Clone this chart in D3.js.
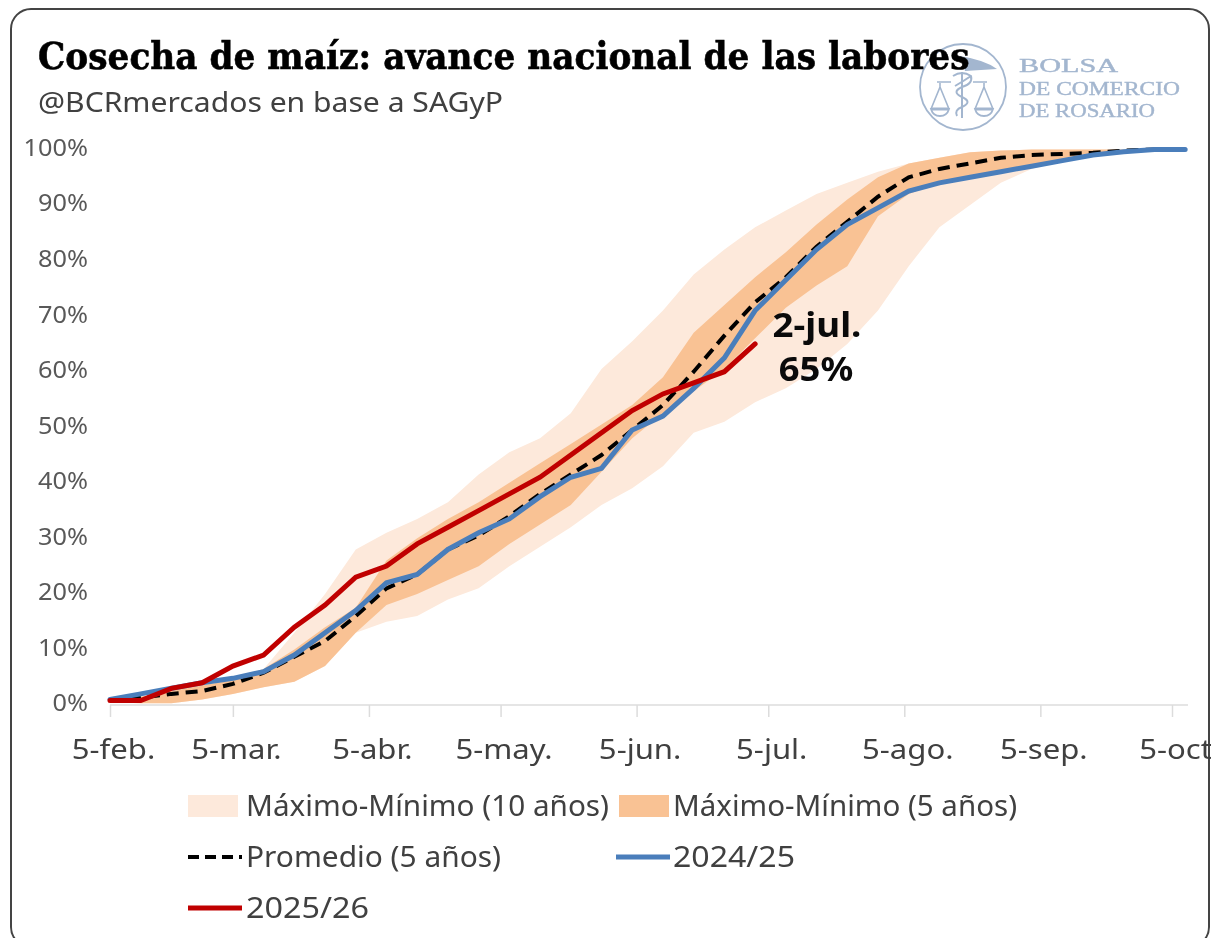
<!DOCTYPE html>
<html>
<head>
<meta charset="utf-8">
<script src="https://cdn.jsdelivr.net/npm/d3@7"></script>
<style>
  html, body { margin: 0; background: #fff; }
  svg { display: block; filter: blur(0.7px); }
</style>
</head>
<body>
<svg id="chart" width="1211" height="938"></svg>
<script>
// --- Data (weekly, starting 5 Feb) ---
const startDate = new Date(2025, 1, 5);
const max10 = [1, 1.5, 2.5, 3.5, 4.5, 6.5, 13, 20, 28, 31, 33.5, 36.5, 41.5, 45.5, 48, 52.5, 60.5, 65.5, 71, 77.5, 82, 86, 89, 92, 94, 96, 97.5, 98.5, 99.5, 99.8, 100, 100, 100, 100, 100, 100];
const min10 = [0.5, 0.3, 0.3, 1, 2, 3.2, 4.2, 7, 13, 15, 16, 19, 21, 25, 28.5, 32, 36, 39, 43, 49, 51, 54.5, 57, 60.5, 65, 71, 79, 86, 90, 94, 96.5, 98, 99, 99.6, 100, 100];
const max5 = [1, 1.5, 2.5, 3.5, 4.5, 6.5, 10, 14, 17.5, 26, 30, 33.5, 36.5, 40, 43.5, 47, 50.5, 54, 59, 67, 72, 77, 81.5, 86.5, 91, 95, 97.5, 98.5, 99.5, 99.8, 100, 100, 100, 100, 100, 100];
const min5 = [0.5, 0.3, 0.3, 1, 2, 3.2, 4.2, 7, 13, 18, 20, 22.5, 25, 29, 32.5, 36, 42, 48, 52.5, 56.5, 60.5, 66, 71.5, 75.5, 79, 88, 92, 94, 95, 96, 97, 98, 99, 99.6, 100, 100];
const promedio = [1, 1.3, 2, 2.5, 3.8, 5.8, 8.7, 11.5, 16, 21, 23.5, 28, 30.5, 34, 38, 41.5, 45, 49.5, 54, 60, 66.5, 72.5, 77, 82.5, 87, 91.5, 95, 96.5, 97.5, 98.5, 99, 99.2, 99.4, 99.8, 100, 100];
const serie2425 = [1, 2, 3, 4, 4.8, 6, 9, 13, 17, 22, 23.5, 28, 31, 33.5, 37.5, 41, 42.6, 49.5, 52, 57, 62.5, 71, 76.5, 82, 86.5, 89.5, 92.5, 94, 95, 96, 97, 98, 99, 99.6, 100, 100];
const serie2526 = [0.8, 0.8, 3, 4, 7, 9, 14, 18, 23, 25, 29, 32, 35, 38, 41, 45, 49, 53, 56, 58, 60, 65];
const yTicks = [0, 10, 20, 30, 40, 50, 60, 70, 80, 90, 100];
const xTickMonths = [1, 2, 3, 4, 5, 6, 7, 8, 9];
const xTickLabels = ["5-feb.", "5-mar.", "5-abr.", "5-may.", "5-jun.", "5-jul.", "5-ago.", "5-sep.", "5-oct"];

const colors = { light: "#fde9db", dark: "#f9c294", avg: "#000000", blue: "#4a7ebb", red: "#c00000" };
const sans = "'Noto Sans', sans-serif";

const svg = d3.select("#chart");
const weekDate = i => d3.timeDay.offset(startDate, i * 7);

const x = d3.scaleTime()
  .domain([startDate, new Date(2025, 9, 5)])
  .range([110, 1172]);
const y = d3.scaleLinear().domain([0, 100]).range([705, 149.5]);

// the original font is wider than Noto Sans: stretch each text by a factor
function stretch(sel, factor) {
  sel.each(function () {
    const len = this.getComputedTextLength();
    d3.select(this).attr("textLength", len * factor).attr("lengthAdjust", "spacingAndGlyphs");
  });
}

// --- Frame ---
svg.append("rect")
  .attr("x", 11).attr("y", 9).attr("width", 1198).attr("height", 938).attr("rx", 20)
  .attr("fill", "#fff").attr("stroke", "#444").attr("stroke-width", 2);

// --- Logo (behind the title) ---
const logoColor = "#a3b6cf";
const logo = svg.append("g").attr("class", "logo");
logo.append("circle").attr("cx", 963).attr("cy", 87).attr("r", 43)
  .attr("fill", "none").attr("stroke", logoColor).attr("stroke-width", 1.8);
// wing
logo.append("path").attr("d", "M960 56 Q985 60 997 69 L965 71 Z").attr("fill", logoColor);
// scales
logo.append("path").attr("d", "M940 83 V87 L931 109 M940 87 L949 109 M984 83 V87 L975 109 M984 87 L993 109 M937 82 H951 M973 82 H987")
  .attr("fill", "none").attr("stroke", logoColor).attr("stroke-width", 1.6);
logo.append("path").attr("d", "M931 109 H949 Q947 116 940 116 Q933 116 931 109 Z M975 109 H993 Q991 116 984 116 Q977 116 975 109 Z")
  .attr("fill", "none").attr("stroke", logoColor).attr("stroke-width", 1.8);
logo.append("path").attr("d", "M931 109 H949 M975 109 H993").attr("stroke", logoColor).attr("stroke-width", 3);
// caduceus
logo.append("path").attr("d", "M962 72 V118 M953 76 Q962 70 971 76 Q973 84 962 87 Q951 92 962 97 Q973 102 962 107 Q954 110 957 116 M971 76 Q962 82 955 86")
  .attr("fill", "none").attr("stroke", logoColor).attr("stroke-width", 2);
[["BOLSA", 72, 99], ["DE COMERCIO", 95, 161], ["DE ROSARIO", 117, 136]].forEach(d => {
  logo.append("text").attr("x", 1019).attr("y", d[1]).text(d[0])
    .attr("font-family", "'Liberation Serif', serif").attr("font-size", 19.5)
    .attr("textLength", d[2]).attr("lengthAdjust", "spacingAndGlyphs")
    .attr("fill", logoColor).attr("stroke", logoColor).attr("stroke-width", 0.4);
});

// --- Bands ---
const bandArea = (upper, lower) => d3.area()
  .x((d, i) => x(weekDate(i)))
  .y0((d, i) => y(lower[i]))
  .y1((d, i) => y(upper[i]));

svg.append("path").datum(max10).attr("d", bandArea(max10, min10)).attr("fill", colors.light);
svg.append("path").datum(max5).attr("d", bandArea(max5, min5)).attr("fill", colors.dark);

// --- Axes ---
const xAxis = d3.axisBottom(x)
  .tickValues(xTickMonths.map(m => new Date(2025, m, 5)))
  .tickSize(12)
  .tickFormat((d, i) => xTickLabels[i]);

const xG = svg.append("g").attr("transform", "translate(0,705)").call(xAxis);
xG.select(".domain").remove();
xG.append("line").attr("x1", 110).attr("x2", 1188).attr("stroke", "#dcdcdc").attr("stroke-width", 1.5);
xG.selectAll(".tick line").attr("stroke", "#dcdcdc").attr("stroke-width", 1.5);
xG.selectAll(".tick text")
  .attr("x", 3).attr("y", 54).attr("dy", 0)
  .attr("font-family", sans).attr("font-size", 28).attr("fill", "#404040")
  .call(stretch, 1.11);

const yAxis = d3.axisLeft(y).tickValues(yTicks).tickSize(0).tickFormat(d => d + "%");
const yG = svg.append("g").attr("transform", "translate(88,-1.5)").call(yAxis);
yG.select(".domain").remove();
yG.selectAll(".tick text")
  .attr("x", 0).attr("dy", "0.32em")
  .attr("font-family", sans).attr("font-size", 23).attr("fill", "#595959")
  .call(stretch, 1.1);

// --- Lines ---
const lineGen = d3.line().x((d, i) => x(weekDate(i))).y(d => y(d));

svg.append("path").datum(promedio).attr("d", lineGen).attr("fill", "none")
  .attr("stroke", colors.avg).attr("stroke-width", 4).attr("stroke-dasharray", "12 7");
svg.append("path").datum(serie2425).attr("d", lineGen).attr("fill", "none")
  .attr("stroke", colors.blue).attr("stroke-width", 5).attr("stroke-linecap", "round");
svg.append("path").datum(serie2526).attr("d", lineGen).attr("fill", "none")
  .attr("stroke", colors.red).attr("stroke-width", 5).attr("stroke-linecap", "round");

// --- Annotation ---
svg.append("text").attr("x", 817).attr("y", 337).attr("text-anchor", "middle").text("2-jul.")
  .attr("font-family", sans).attr("font-weight", 700).attr("font-size", 34).attr("fill", "#0a0a0a")
  .call(stretch, 1.08);
svg.append("text").attr("x", 816).attr("y", 381).attr("text-anchor", "middle").text("65%")
  .attr("font-family", sans).attr("font-weight", 700).attr("font-size", 34).attr("fill", "#0a0a0a")
  .call(stretch, 1.07);

// --- Title ---
// squeezed with a transform so its box really ends where the glyphs do
const title = svg.append("text").text("Cosecha de maíz: avance nacional de las labores")
  .attr("font-family", "'DejaVu Serif', serif").attr("font-weight", 700).attr("font-size", 37)
  .attr("fill", "#000").attr("stroke", "#000").attr("stroke-width", 0.6);
title.attr("transform", `translate(38,69) scale(${932 / title.node().getComputedTextLength()},1)`);
svg.append("text").attr("x", 38).attr("y", 112).text("@BCRmercados en base a SAGyP")
  .attr("font-family", sans).attr("font-size", 28).attr("fill", "#404040")
  .attr("textLength", 465).attr("lengthAdjust", "spacingAndGlyphs");

// --- Legend ---
const legendRows = [
  { label: "Máximo-Mínimo (10 años)", kind: "band", color: colors.light, sx: 188, tx: 246, ty: 806, w: 363 },
  { label: "Máximo-Mínimo (5 años)", kind: "band", color: colors.dark, sx: 619, tx: 673, ty: 806, w: 344 },
  { label: "Promedio (5 años)", kind: "dash", color: colors.avg, sx: 188, tx: 246, ty: 857, w: 255 },
  { label: "2024/25", kind: "line", color: colors.blue, sx: 616, tx: 673, ty: 857, w: 122 },
  { label: "2025/26", kind: "line", color: colors.red, sx: 188, tx: 246, ty: 908, w: 123 }
];
legendRows.forEach(d => {
  if (d.kind === "band") {
    svg.append("rect").attr("x", d.sx).attr("y", d.ty - 11).attr("width", 50).attr("height", 22).attr("fill", d.color);
  } else {
    svg.append("line").attr("x1", d.sx).attr("x2", d.sx + 54).attr("y1", d.ty).attr("y2", d.ty)
      .attr("stroke", d.color).attr("stroke-width", d.kind === "dash" ? 4 : 5)
      .attr("stroke-dasharray", d.kind === "dash" ? "11 6" : null);
  }
  svg.append("text").attr("x", d.tx).attr("y", d.ty).attr("dy", "0.35em").text(d.label)
    .attr("font-family", sans).attr("font-size", 29).attr("fill", "#404040")
    .attr("textLength", d.w).attr("lengthAdjust", "spacingAndGlyphs");
});
</script>
</body>
</html>
